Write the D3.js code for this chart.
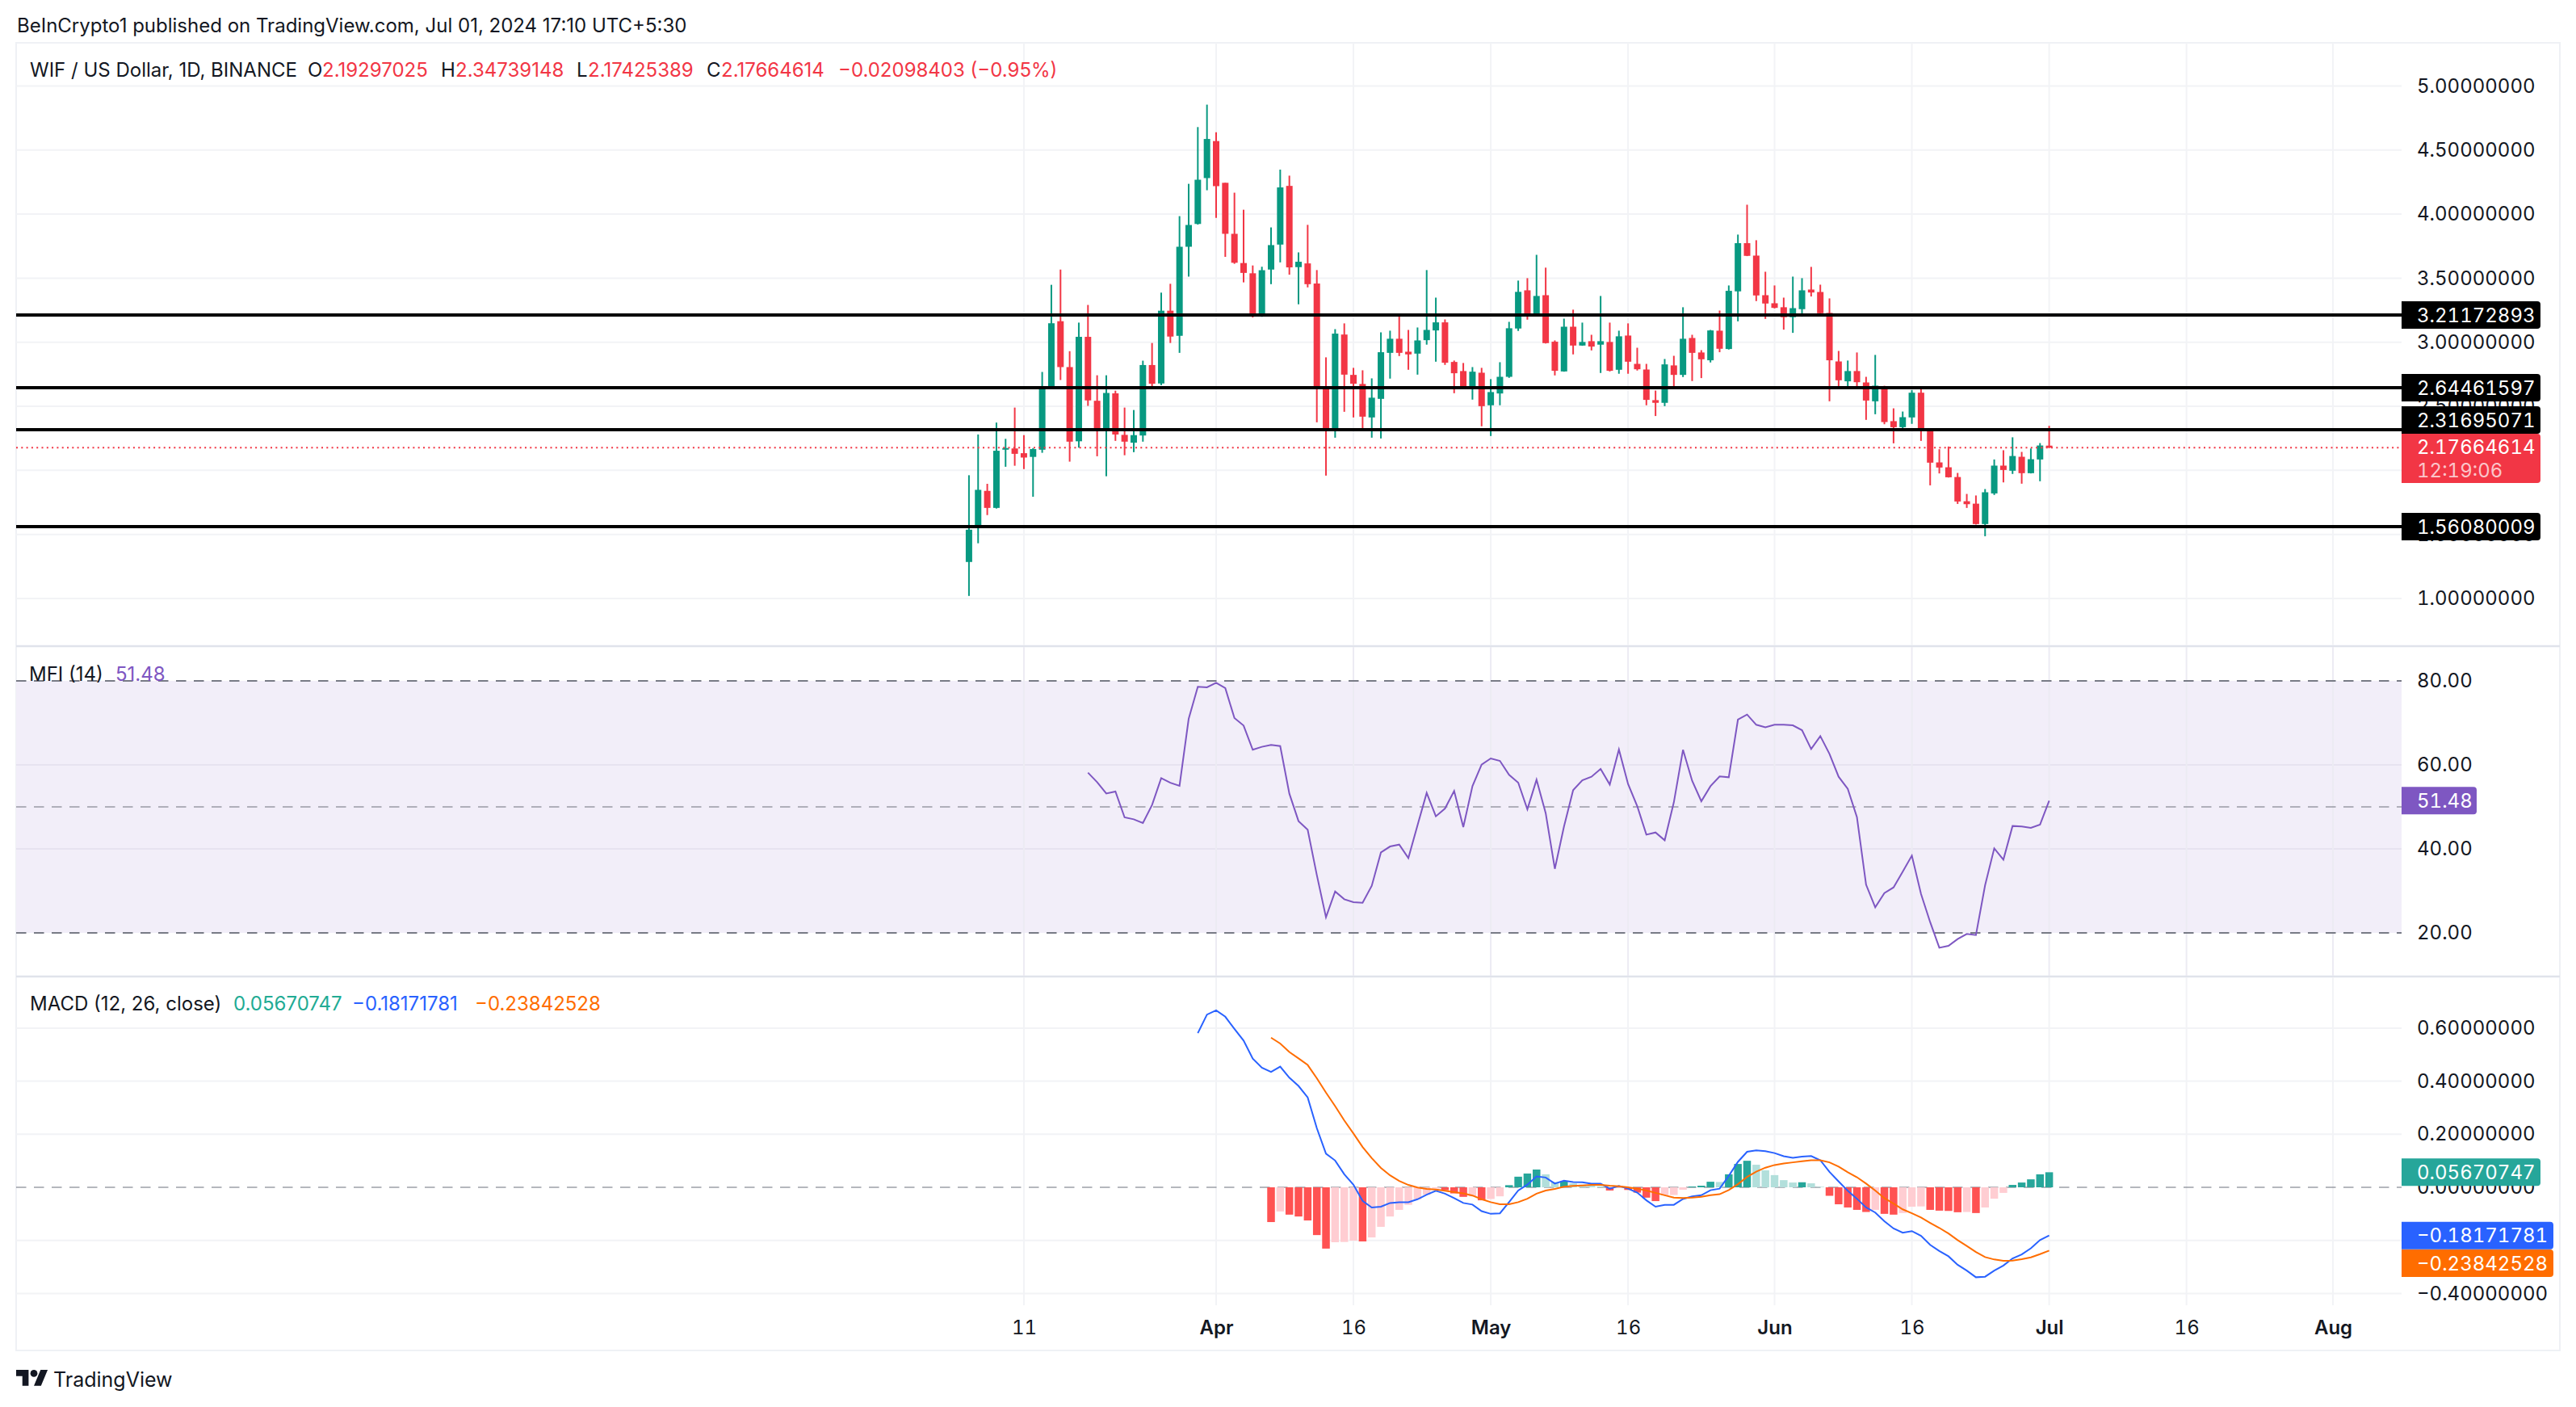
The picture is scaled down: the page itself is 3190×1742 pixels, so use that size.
<!DOCTYPE html>
<html>
<head>
<meta charset="utf-8">
<script src="https://cdn.jsdelivr.net/npm/d3@7"></script>
<style>
    body { margin: 0; background: #ffffff; }
    text { font-family: Inter, "Noto Sans", sans-serif; }
    .axis text { font-size: 24px; fill: #131722; font-variant-numeric: tabular-nums; }
    .axis path, .axis line { display: none; }
</style>
</head>
<body>
<div id="chart"></div>
<script>
var firstCandle = "2024-03-05";
var firstMfi = "2024-03-18";
var firstMacd = "2024-03-30";
var firstSignal = "2024-04-07";

var opens = [
    1.285,1.556,1.840,1.707,2.169,2.171,2.134,2.105,2.161,2.652,3.164,2.806,2.227,3.042,2.543,2.317,2.601,2.277,2.216,2.272,2.822,2.678,3.246,3.050,3.745,3.923,4.281,
    4.570,4.244,3.846,3.618,3.538,3.204,3.567,3.762,4.22,3.586,3.615,3.458,2.655,2.323,3.060,2.745,2.674,2.413,2.558,2.917,3.027,2.926,2.911,3.016,3.092,3.155,2.846,2.775,2.651,2.762,
    2.508,2.600,2.730,3.107,3.405,3.220,3.367,3.004,2.772,3.121,2.974,3.008,2.981,3.002,2.785,3.052,2.831,2.787,2.548,2.527,2.819,2.745,3.033,2.920,2.859,3.090,2.947,3.397,3.773,3.676,3.367,
    3.304,3.273,3.195,3.258,3.411,3.392,3.229,2.850,2.695,2.775,2.686,2.539,2.655,2.384,2.337,2.413,2.606,2.306,2.062,2.024,1.948,1.759,1.740,1.581,1.820,2.037,1.997,2.106,1.978,2.085,
    2.19297
];
var highs = [
    1.962,2.280,1.895,2.373,2.246,2.490,2.275,2.174,2.768,3.448,3.567,2.930,3.153,3.291,2.742,2.742,2.622,2.490,2.471,2.856,2.994,3.387,3.456,3.984,4.236,4.679,4.854,
    4.639,4.244,4.167,4.034,3.599,3.589,3.896,4.347,4.30,3.701,3.916,3.563,2.882,3.102,3.147,2.800,2.781,2.718,3.077,3.090,3.210,3.096,3.115,3.563,3.348,3.178,2.857,2.838,2.806,2.800,
    2.712,2.844,3.159,3.481,3.500,3.682,3.582,3.014,3.184,3.254,3.153,3.058,3.361,3.153,3.090,3.147,2.957,2.831,2.623,2.869,2.894,3.273,3.058,2.938,3.096,3.247,3.443,3.840,4.073,3.796,3.550,
    3.443,3.348,3.512,3.500,3.588,3.449,3.342,2.932,2.857,2.920,2.730,2.901,2.660,2.484,2.459,2.627,2.640,2.323,2.165,2.186,1.980,1.816,1.804,1.854,2.085,2.157,2.258,2.144,2.171,2.213,
    2.34739
];
var lows = [
    1.020,1.431,1.651,1.702,2.028,2.036,2.010,1.794,2.137,2.644,2.705,2.068,2.177,2.503,2.110,1.954,2.230,2.118,2.142,2.224,2.636,2.665,2.994,2.917,3.512,3.918,4.186,
    3.971,3.666,3.612,3.467,3.193,3.198,3.453,3.623,3.527,3.296,3.428,2.375,1.959,2.255,2.457,2.413,2.325,2.255,2.249,2.716,2.892,2.785,2.747,2.981,2.848,2.823,2.602,2.634,2.552,2.344,
    2.268,2.508,2.722,3.088,3.176,3.216,2.990,2.741,2.770,2.905,2.972,2.936,2.760,2.772,2.754,2.754,2.779,2.508,2.424,2.501,2.651,2.728,2.697,2.720,2.842,2.922,2.943,3.163,3.672,3.321,3.182,
    3.264,3.098,3.073,3.199,3.357,3.224,2.539,2.653,2.644,2.653,2.394,2.438,2.360,2.211,2.306,2.363,2.230,1.883,1.976,1.944,1.738,1.707,1.577,1.486,1.808,1.906,1.972,1.896,1.976,1.915,
    2.17425
];
var closes = [
    1.537,1.848,1.707,2.153,2.174,2.129,2.100,2.166,2.652,3.148,2.806,2.224,3.042,2.546,2.317,2.604,2.280,2.224,2.275,2.822,2.676,3.246,3.044,3.745,3.915,4.268,4.586,
    4.218,3.846,3.620,3.541,3.209,3.562,3.758,4.208,3.584,3.628,3.453,2.651,2.325,3.067,2.747,2.676,2.419,2.567,2.922,3.027,2.917,2.905,3.014,3.096,3.155,2.840,2.758,2.644,2.770,2.501,
    2.611,2.730,3.109,3.393,3.212,3.361,2.993,2.777,3.121,2.974,3.002,2.966,3.008,2.777,3.046,2.848,2.789,2.550,2.527,2.827,2.745,3.027,2.917,2.867,3.092,2.949,3.401,3.773,3.674,3.365,3.302,
    3.268,3.195,3.266,3.405,3.388,3.226,2.859,2.703,2.775,2.688,2.545,2.661,2.377,2.337,2.415,2.606,2.306,2.060,2.022,1.946,1.757,1.736,1.581,1.829,2.037,2.003,2.112,1.978,2.087,2.194,
    2.17665
];
var levels = [3.21172893, 2.64461597, 2.31695071, 1.56080009];
var lastClose = 2.17664614;

var mfiValues = [
    58.14,55.9,53.2,53.65,47.5,47.05,46.15,50.45,56.85,55.75,55.0,70.96,78.6,78.46,
    79.55,78.27,71.15,69.36,63.6,64.3,64.74,64.48,53.14,46.6,44.55,33.78,23.72,29.87,28.01,27.3,27.18,31.21,39.16,40.57,41.02,37.82,45.64,53.33,47.75,49.6,53.78,45.19,54.93,60.06,
    61.54,60.96,57.62,55.77,49.42,56.47,48.52,35.25,45.32,53.97,56.34,57.18,59.04,55.32,63.65,55.45,50.19,43.39,43.91,42.05,51.09,63.59,56.21,51.34,54.93,57.24,57.05,70.77,71.98,69.55,68.97,
    69.55,69.55,69.42,68.27,63.78,66.86,62.63,57.18,54.29,47.56,31.47,26.09,29.48,30.83,34.55,38.39,29.29,22.56,16.47,16.92,18.52,19.74,19.49,31.34,40.13,37.43,45.45,45.32,45.0,45.77,
    51.48
];

var macdValues = [
    0.581,0.651,
    0.667,0.643,0.597,0.553,0.485,0.451,0.435,0.455,0.413,0.382,0.339,0.223,0.127,0.101,0.049,0.010,-0.051,-0.076,-0.073,-0.059,-0.056,-0.056,-0.045,-0.028,-0.013,-0.024,-0.041,-0.059,-0.065,-0.090,
    -0.100,-0.098,-0.056,-0.012,0.010,0.041,0.037,0.014,0.025,0.020,0.019,0.014,0.014,-0.005,0.005,-0.005,-0.020,-0.049,-0.073,-0.066,-0.066,-0.044,-0.034,-0.030,-0.011,-0.005,0.043,0.096,0.134,0.139,0.136,
    0.129,0.117,0.111,0.116,0.118,0.102,0.058,0.022,-0.013,-0.043,-0.076,-0.095,-0.128,-0.155,-0.171,-0.165,-0.183,-0.217,-0.240,-0.260,-0.292,-0.314,-0.339,-0.337,-0.314,-0.295,-0.268,-0.253,-0.230,-0.199,
    -0.18171781
];
var signalValues = [
    0.564,0.542,0.510,0.486,0.461,0.411,0.357,0.306,0.252,0.203,0.152,0.110,0.073,0.045,0.024,0.009,-0.001,-0.006,-0.008,-0.013,-0.018,-0.023,-0.031,-0.045,
    -0.056,-0.064,-0.064,-0.056,-0.043,-0.024,-0.012,-0.006,0.002,0.005,0.007,0.009,0.009,0.006,0.004,0.000,-0.005,-0.012,-0.021,-0.030,-0.039,-0.040,-0.039,-0.036,-0.030,-0.026,-0.010,0.012,0.039,0.059,0.074,
    0.084,0.090,0.094,0.098,0.102,0.102,0.094,0.078,0.057,0.038,0.014,-0.012,-0.041,-0.061,-0.083,-0.098,-0.114,-0.134,-0.153,-0.174,-0.199,-0.221,-0.244,-0.263,-0.272,-0.277,-0.276,-0.271,-0.264,-0.252,
    -0.23842528
];
var histValues = [
    -0.131,-0.091,-0.103,-0.110,-0.125,-0.180,-0.231,-0.207,-0.206,-0.201,-0.204,-0.189,-0.149,-0.110,-0.085,-0.066,-0.045,-0.028,-0.005,-0.011,-0.023,-0.036,-0.034,-0.049,
    -0.044,-0.034,0.008,0.040,0.052,0.067,0.049,0.020,0.023,0.015,0.010,0.006,0.004,-0.012,-0.002,-0.010,-0.020,-0.039,-0.052,-0.030,-0.029,-0.009,0.003,0.006,0.021,0.020,0.049,0.088,0.100,0.085,0.064,
    0.046,0.027,0.018,0.019,0.015,0.002,-0.032,-0.064,-0.076,-0.085,-0.093,-0.085,-0.100,-0.103,-0.097,-0.073,-0.072,-0.085,-0.088,-0.089,-0.094,-0.093,-0.097,-0.076,-0.043,-0.021,0.009,0.018,0.030,0.049,
    0.05670747
];

var priceTicks = [1, 1.5, 2, 2.5, 3, 3.5, 4, 4.5, 5];
var mfiTicks = [20, 40, 60, 80];
var mfiBands = [80, 50, 20];
var macdTicks = [-0.4, -0.2, 0, 0.2, 0.4, 0.6];
var dateTicks = ["2024-03-11", "2024-04-01", "2024-04-16", "2024-05-01", "2024-05-16", "2024-06-01", "2024-06-16", "2024-07-01", "2024-07-16", "2024-08-01"];
var dateLabels = ["11", "Apr", "16", "May", "16", "Jun", "16", "Jul", "16", "Aug"];

var svgWidth = 3190;
var svgHeight = 1742;
var frame = { left: 20, right: 3170, top: 53, bottom: 1672, plotRight: 2974, axisLeft: 2993 };
var panes = { main: [53, 799], mfi: [801, 1208], macd: [1210, 1616] };

var red = "#f23645", green = "#089981";
var gridColor = "#f2f3f6";

var svg = d3.select("#chart").append("svg")
    .attr("width", svgWidth)
    .attr("height", svgHeight)
    .style("display", "block");

var parseDay = d3.utcParse("%Y-%m-%d");
var dayAt = (start, i) => d3.utcDay.offset(parseDay(start), i);

var xScale = d3.scaleUtc()
    .domain([parseDay("2024-04-01"), parseDay("2024-07-01")])
    .range([1506, 2537.6]);
var priceScale = d3.scaleLinear().domain([1, 5]).range([741, 106.4]);
var mfiScale = d3.scaleLinear().domain([20, 80]).range([1155, 843]);
var macdScale = d3.scaleLinear().domain([-0.4, 0.6]).range([1601.4, 1272.9]);

// header line above the frame
svg.append("text").attr("x", 21).attr("y", 40)
    .attr("font-size", 24).attr("fill", "#131722")
    .text("BeInCrypto1 published on TradingView.com, Jul 01, 2024 17:10 UTC+5:30");

// outer frame and pane separators
svg.append("rect")
    .attr("x", frame.left).attr("y", frame.top)
    .attr("width", frame.right - frame.left).attr("height", frame.bottom - frame.top)
    .attr("fill", "none").attr("stroke", "#eff1f5").attr("stroke-width", 2);
svg.selectAll(".sep").data([800, 1209]).enter().append("line")
    .attr("class", "sep")
    .attr("x1", frame.left).attr("x2", frame.right)
    .attr("y1", d => d).attr("y2", d => d)
    .attr("stroke", "#e0e3eb").attr("stroke-width", 2.5);

// MFI background band
svg.append("rect")
    .attr("x", frame.left).attr("width", frame.plotRight - frame.left)
    .attr("y", mfiScale(80)).attr("height", mfiScale(20) - mfiScale(80))
    .attr("fill", "#f2eef9");

// grid
function hGrid(ticks, scale, color) {
    svg.append("g").selectAll("line").data(ticks).enter().append("line")
        .attr("x1", frame.left).attr("x2", frame.plotRight)
        .attr("y1", d => scale(d)).attr("y2", d => scale(d))
        .attr("stroke", color).attr("stroke-width", 2);
}
hGrid(priceTicks, priceScale, gridColor);
hGrid([40, 60], mfiScale, "#e7e3f0");
hGrid(macdTicks.filter(d => d != 0), macdScale, gridColor);

Object.keys(panes).forEach(key => {
    svg.append("g").selectAll("line").data(dateTicks).enter().append("line")
        .attr("x1", d => xScale(parseDay(d))).attr("x2", d => xScale(parseDay(d)))
        .attr("y1", panes[key][0]).attr("y2", panes[key][1])
        .attr("stroke", key == "mfi" ? "#ecebf3" : gridColor).attr("stroke-width", 2);
});

// axes
function format8(d) {
    return d3.format(".8f")(d).replace("-", "\u2212");
}
function rightAxis(scale, ticks, fmt) {
    svg.append("g").attr("class", "axis")
        .attr("transform", `translate(${frame.axisLeft}, 0)`)
        .call(d3.axisRight(scale).tickValues(ticks).tickSize(0).tickPadding(0).tickFormat(fmt));
}
rightAxis(priceScale, priceTicks, format8);
rightAxis(mfiScale, mfiTicks, d3.format(".2f"));
rightAxis(macdScale, macdTicks, format8);

var timeAxis = svg.append("g").attr("class", "axis")
    .attr("transform", "translate(0, 1635)")
    .call(d3.axisBottom(xScale)
        .tickValues(dateTicks.map(parseDay))
        .tickSize(0).tickPadding(0)
        .tickFormat((d, i) => dateLabels[i]));
timeAxis.selectAll("text")
    .attr("font-weight", (d, i) => isNaN(+dateLabels[i]) ? 600 : 400);

// candles
var candles = svg.append("g");
opens.forEach((o, i) => {
    var x = xScale(dayAt(firstCandle, i));
    var color = closes[i] >= o ? green : red;
    candles.append("line")
        .attr("x1", x).attr("x2", x)
        .attr("y1", priceScale(highs[i])).attr("y2", priceScale(lows[i]))
        .attr("stroke", color).attr("stroke-width", 2);
    candles.append("rect")
        .attr("x", x - 4).attr("width", 8)
        .attr("y", priceScale(Math.max(o, closes[i])))
        .attr("height", Math.max(2, Math.abs(priceScale(o) - priceScale(closes[i]))))
        .attr("fill", color);
});

// current price dotted line
svg.append("line")
    .attr("x1", frame.left).attr("x2", frame.plotRight)
    .attr("y1", priceScale(lastClose)).attr("y2", priceScale(lastClose))
    .attr("stroke", red).attr("stroke-width", 2).attr("stroke-dasharray", "2 4.3");

// horizontal support and resistance levels
svg.append("g").selectAll("line").data(levels).enter().append("line")
    .attr("x1", frame.left).attr("x2", frame.plotRight)
    .attr("y1", d => priceScale(d)).attr("y2", d => priceScale(d))
    .attr("stroke", "#000000").attr("stroke-width", 4);

// MFI
svg.append("g").selectAll("line").data(mfiBands).enter().append("line")
    .attr("x1", frame.left).attr("x2", frame.plotRight)
    .attr("y1", d => mfiScale(d)).attr("y2", d => mfiScale(d))
    .attr("stroke", "#787b86").attr("stroke-opacity", d => d == 50 ? 0.55 : 1)
    .attr("stroke-width", 2).attr("stroke-dasharray", "12.5 9.5");

var mfiLine = d3.line()
    .x((d, i) => xScale(dayAt(firstMfi, i)))
    .y(d => mfiScale(d));
svg.append("path").datum(mfiValues)
    .attr("d", mfiLine).attr("fill", "none")
    .attr("stroke", "#7e57c2").attr("stroke-width", 2);

// MACD
svg.append("line")
    .attr("x1", frame.left).attr("x2", frame.plotRight)
    .attr("y1", macdScale(0)).attr("y2", macdScale(0))
    .attr("stroke", "#787b86").attr("stroke-opacity", 0.55)
    .attr("stroke-width", 2).attr("stroke-dasharray", "12.5 9.5");

function histColor(d, i) {
    var rising = i > 0 && d > histValues[i - 1];
    if (d >= 0) return rising ? "#26a69a" : "#b2dfdb";
    return rising ? "#ffcdd2" : "#ff5252";
}
svg.append("g").selectAll("rect").data(histValues).enter().append("rect")
    .attr("x", (d, i) => xScale(dayAt(firstSignal, i)) - 4.75)
    .attr("width", 9.5)
    .attr("y", d => Math.min(macdScale(0), macdScale(d)))
    .attr("height", d => Math.abs(macdScale(d) - macdScale(0)))
    .attr("fill", histColor);

function macdPath(values, start, color) {
    var line = d3.line()
        .x((d, i) => xScale(dayAt(start, i)))
        .y(d => macdScale(d));
    svg.append("path").datum(values)
        .attr("d", line).attr("fill", "none")
        .attr("stroke", color).attr("stroke-width", 2);
}
macdPath(macdValues, firstMacd, "#2962ff");
macdPath(signalValues, firstSignal, "#ff6d00");

// value labels on the right hand scale
function priceLabel(centerY, width, height, color, lines) {
    var x = frame.plotRight, y = centerY - height / 2, r = 4;
    svg.append("path")
        .attr("d", `M${x},${y}h${width - r}q${r},0 ${r},${r}v${height - 2 * r}q0,${r} ${-r},${r}h${-(width - r)}z`)
        .attr("fill", color);
    lines.forEach(l => {
        svg.append("text")
            .attr("x", frame.axisLeft).attr("y", l.y)
            .attr("dy", "0.36em")
            .attr("font-size", 24)
            .attr("fill", l.fill || "#ffffff")
            .style("font-variant-numeric", "tabular-nums")
            .text(l.text);
    });
}
priceLabel(priceScale(levels[0]), 172, 34, "#000000", [{ y: priceScale(levels[0]), text: format8(levels[0]) }]);
priceLabel(priceScale(levels[1]), 172, 34, "#000000", [{ y: priceScale(levels[1]), text: format8(levels[1]) }]);
priceLabel(520, 172, 34, "#000000", [{ y: 520, text: format8(levels[2]) }]);
priceLabel(priceScale(levels[3]), 172, 34, "#000000", [{ y: priceScale(levels[3]), text: format8(levels[3]) }]);
priceLabel(567.5, 172, 61, red, [
    { y: 553, text: format8(lastClose) },
    { y: 582, text: "12:19:06", fill: "#fbc5ca" }
]);
var lastMfi = mfiValues[mfiValues.length - 1];
priceLabel(mfiScale(lastMfi), 93, 34, "#7e57c2", [{ y: mfiScale(lastMfi), text: lastMfi.toFixed(2) }]);
var lastHist = histValues[histValues.length - 1];
var lastMacd = macdValues[macdValues.length - 1];
var lastSignal = signalValues[signalValues.length - 1];
priceLabel(macdScale(lastHist), 172, 34, "#26a69a", [{ y: macdScale(lastHist), text: format8(lastHist) }]);
priceLabel(macdScale(lastMacd), 188, 34, "#2962ff", [{ y: macdScale(lastMacd), text: format8(lastMacd) }]);
priceLabel(1564, 188, 34, "#ff6d00", [{ y: 1564, text: format8(lastSignal) }]);

// legends
function legend(y, parts) {
    parts.forEach(p => {
        svg.append("text")
            .attr("x", p.x).attr("y", y).attr("dy", "0.36em")
            .attr("font-size", 24).attr("fill", p.color || "#131722")
            .text(p.text);
    });
}
legend(86, [
    { x: 37, text: "WIF / US Dollar, 1D, BINANCE" },
    { x: 381, text: "O" }, { x: 399, text: "2.19297025", color: red },
    { x: 546, text: "H" }, { x: 564, text: "2.34739148", color: red },
    { x: 714, text: "L" }, { x: 728, text: "2.17425389", color: red },
    { x: 875, text: "C" }, { x: 893, text: "2.17664614", color: red },
    { x: 1038, text: "\u22120.02098403 (\u22120.95%)", color: red }
]);
legend(834, [
    { x: 36, text: "MFI (14)" },
    { x: 143, text: "51.48", color: "#7e57c2" }
]);
legend(1242, [
    { x: 37, text: "MACD (12, 26, close)" },
    { x: 289, text: "0.05670747", color: "#22ab94" },
    { x: 436, text: "\u22120.18171781", color: "#2962ff" },
    { x: 588, text: "\u22120.23842528", color: "#ff6d00" }
]);

// TradingView mark
var logo = svg.append("g")
    .attr("transform", "translate(20, 1691.6) scale(1.1)")
    .attr("fill", "#131722");
logo.append("path").attr("d", "M14 22H7V11H0V4h14v18zM28 22h-8l7.5-18h8L28 22z");
logo.append("circle").attr("cx", 20).attr("cy", 8).attr("r", 4);
svg.append("text").attr("x", 66).attr("y", 1717)
    .attr("font-size", 25).attr("font-weight", 400).attr("fill", "#131722")
    .text("TradingView");
</script>
</body>
</html>
